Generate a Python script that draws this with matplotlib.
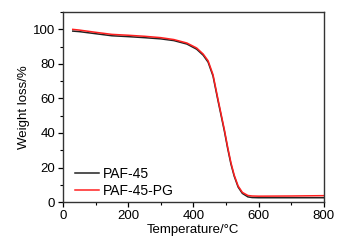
import matplotlib
matplotlib.use("Agg")
import matplotlib.pyplot as plt
from matplotlib.ticker import MultipleLocator

plt.rcParams['font.family'] = ['Liberation Sans', 'DejaVu Sans']

temps = [30, 50, 100, 150, 200, 250, 300, 340, 380, 410, 430, 445, 460, 475, 485,
         495, 505, 515, 525, 537, 550, 567, 580, 600, 700, 800]
paf45 = [99, 98.7, 97.5, 96.3, 95.8, 95.2, 94.5, 93.5, 91.5, 88.5, 85, 81, 73, 59, 50,
         41, 31, 22, 15, 8.7, 5, 3, 2.6, 2.5, 2.5, 2.5]
paf45pg = [100, 99.6, 98.3, 97.1, 96.6, 96.0, 95.2, 94.1, 92.1, 89.2, 85.7, 81.8, 73.8, 59.8, 50.8,
           41.8, 31.8, 22.8, 15.6, 9.3, 5.6, 3.8, 3.5, 3.4, 3.5, 3.7]

fig = plt.figure(figsize=(3.49, 2.47), dpi=100)
ax = fig.add_axes([0.1805, 0.182, 0.7475, 0.769])
ax.plot(temps, paf45, color='#222222', lw=1.1, label='PAF-45')
ax.plot(temps, paf45pg, color='#ff2020', lw=1.1, label='PAF-45-PG')

ax.set_xlim(0, 800)
ax.set_ylim(0, 110)
ax.xaxis.set_major_locator(MultipleLocator(200))
ax.xaxis.set_minor_locator(MultipleLocator(100))
ax.yaxis.set_major_locator(MultipleLocator(20))
ax.yaxis.set_minor_locator(MultipleLocator(10))
ax.tick_params(which='major', direction='out', length=3.5, width=0.9, labelsize=9.5, pad=2)
ax.tick_params(which='minor', direction='out', length=2, width=0.8)
for s in ax.spines.values():
    s.set_linewidth(1.0)
    s.set_color('#333333')

ax.set_xlabel('Temperature/°C', fontsize=9.5, labelpad=2)
ax.set_ylabel('Weight loss/%', fontsize=9.5, labelpad=2)
ax.legend(loc='lower left', frameon=False, fontsize=10, handlelength=1.7,
          handletextpad=0.25, labelspacing=0.25, bbox_to_anchor=(0.0, -0.045))

fig.savefig('out.png', dpi=100)
